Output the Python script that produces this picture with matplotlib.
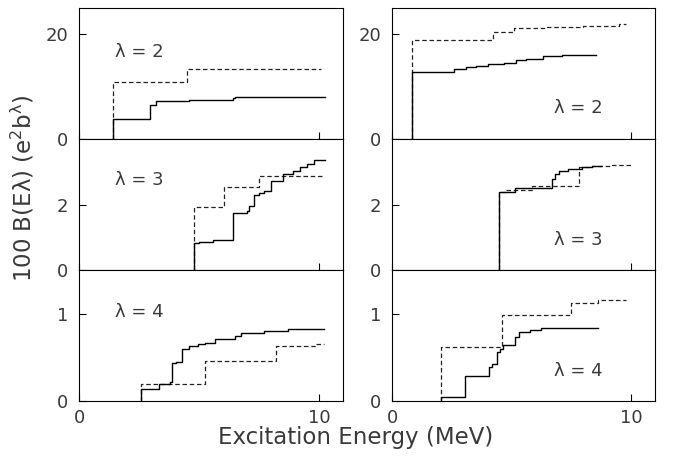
import numpy as np
import matplotlib.pyplot as plt

# cumulative B(E lambda) strength, step positions (MeV) and running sums
# top row: lambda = 2
l2_left_solid_e = [1.4, 2.96, 3.2, 4.6, 6.4, 6.5]
l2_left_solid_b = [3.8, 6.5, 7.25, 7.5, 7.75, 8.1]
l2_left_solid_end = 10.25
l2_left_dash_e = [1.4, 4.5]
l2_left_dash_b = [10.8, 13.3]
l2_left_dash_end = 10.1

l2_right_solid_e = [0.82, 2.6, 3.1, 3.5, 4.0, 4.7, 5.2, 5.6, 6.3, 7.1]
l2_right_solid_b = [12.8, 13.3, 13.7, 14.0, 14.3, 14.5, 15.0, 15.3, 15.8, 16.1]
l2_right_solid_end = 8.55
l2_right_dash_e = [0.82, 4.23, 5.1, 6.5, 8.0, 9.5]
l2_right_dash_b = [18.85, 20.4, 21.2, 21.4, 21.6, 22.0]
l2_right_dash_end = 9.8

# middle row: lambda = 3
l3_left_solid_e = [4.8, 5.0, 5.6, 6.4, 7.0, 7.1, 7.3, 7.5, 7.7, 8.0, 8.5, 8.9, 9.2, 9.5, 9.8]
l3_left_solid_b = [0.83, 0.87, 0.92, 1.74, 1.8, 1.95, 2.29, 2.36, 2.42, 2.71, 2.93, 3.03, 3.15, 3.25, 3.36]
l3_left_solid_end = 10.25
l3_left_dash_e = [4.8, 6.04, 7.5]
l3_left_dash_b = [1.92, 2.52, 2.86]
l3_left_dash_end = 10.2

l3_right_solid_e = [4.48, 5.15, 6.7, 6.8, 6.97, 7.38, 7.93, 8.35]
l3_right_solid_b = [2.39, 2.49, 2.79, 2.94, 3.03, 3.08, 3.15, 3.18]
l3_right_solid_end = 8.76
l3_right_dash_e = [4.48, 4.75, 5.85, 7.83, 8.35, 9.2]
l3_right_dash_b = [2.39, 2.44, 2.56, 3.13, 3.18, 3.22]
l3_right_dash_end = 9.98

# bottom row: lambda = 4
l4_left_solid_e = [2.57, 3.35, 3.79, 3.86, 4.04, 4.28, 4.6, 4.97, 5.25, 5.67, 6.5, 6.74, 7.7, 8.7]
l4_left_solid_b = [0.136, 0.19, 0.22, 0.43, 0.45, 0.6, 0.63, 0.65, 0.66, 0.71, 0.74, 0.78, 0.80, 0.83]
l4_left_solid_end = 10.2
l4_left_dash_e = [2.57, 5.25, 8.2, 9.87]
l4_left_dash_b = [0.2, 0.455, 0.63, 0.65]
l4_left_dash_end = 10.2

l4_right_solid_e = [2.03, 3.07, 4.07, 4.18, 4.41, 4.5, 4.64, 5.13, 5.3, 5.78, 6.22]
l4_right_solid_b = [0.05, 0.29, 0.39, 0.42, 0.56, 0.6, 0.64, 0.73, 0.79, 0.81, 0.84]
l4_right_solid_end = 8.6
l4_right_dash_e = [2.03, 4.59, 7.48, 8.6]
l4_right_dash_b = [0.62, 0.98, 1.12, 1.16]
l4_right_dash_end = 9.77

lam_labels = ['λ = 2', 'λ = 3', 'λ = 4']
y_limits = [25, 4, 1.5]
y_ticks = [[0, 20], [0, 2], [0, 1]]

panels = [
    [(l2_left_solid_e, l2_left_solid_b, l2_left_solid_end, l2_left_dash_e, l2_left_dash_b, l2_left_dash_end),
     (l2_right_solid_e, l2_right_solid_b, l2_right_solid_end, l2_right_dash_e, l2_right_dash_b, l2_right_dash_end)],
    [(l3_left_solid_e, l3_left_solid_b, l3_left_solid_end, l3_left_dash_e, l3_left_dash_b, l3_left_dash_end),
     (l3_right_solid_e, l3_right_solid_b, l3_right_solid_end, l3_right_dash_e, l3_right_dash_b, l3_right_dash_end)],
    [(l4_left_solid_e, l4_left_solid_b, l4_left_solid_end, l4_left_dash_e, l4_left_dash_b, l4_left_dash_end),
     (l4_right_solid_e, l4_right_solid_b, l4_right_solid_end, l4_right_dash_e, l4_right_dash_b, l4_right_dash_end)],
]

label_pos = [[(0.227, 0.667), (0.707, 0.233)],
             [(0.227, 0.69), (0.707, 0.226)],
             [(0.227, 0.68), (0.707, 0.229)]]


def cum_step(e, b, e_end):
    x = [e[0]] + list(e) + [e_end]
    y = [0] + list(b) + [b[-1]]
    return np.array(x), np.array(y)


txt_col = '#3a3a3a'
plt.rcParams['font.family'] = 'DejaVu Sans'
plt.rcParams['mathtext.default'] = 'regular'

fig = plt.figure(figsize=(6.73, 4.62), dpi=100)
gs_left = fig.add_gridspec(3, 1, left=0.1174, right=0.5097, top=0.9827, bottom=0.132, hspace=0)
gs_right = fig.add_gridspec(3, 1, left=0.5825, right=0.9733, top=0.9827, bottom=0.132, hspace=0)

for row in range(3):
    for col, gs in enumerate([gs_left, gs_right]):
        ax = fig.add_subplot(gs[row, 0])
        se, sb, send, de, db, dend = panels[row][col]

        x, y = cum_step(de, db, dend)
        ax.step(x, y, where='post', color='#222222', lw=0.9, dashes=(3.6, 2.2))
        x, y = cum_step(se, sb, send)
        ax.step(x, y, where='post', color='black', lw=1.0)

        ax.set_xlim(0, 11)
        ax.set_ylim(0, y_limits[row])
        ax.set_yticks(y_ticks[row])
        ax.set_xticks([0, 10])
        ax.tick_params(axis='both', direction='in', length=5, width=0.8,
                       labelsize=13, labelcolor=txt_col, colors='black')
        ax.tick_params(axis='y', pad=8)
        ax.tick_params(axis='x', pad=6)
        if row < 2:
            ax.tick_params(axis='x', labelbottom=False)
        for sp in ax.spines.values():
            sp.set_linewidth(0.8)

        tx, ty = label_pos[row][col]
        ax.text(tx, ty, lam_labels[row], transform=ax.transAxes, ha='center', va='center',
                fontsize=13, color=txt_col)

fig.text(0.528, 0.054, 'Excitation Energy (MeV)', ha='center', va='center', fontsize=16.5, color=txt_col)
fig.text(0.033, 0.593, r'100 B(Eλ) (e$^2$b$^λ$)', ha='center', va='center',
         rotation=90, fontsize=16.5, color=txt_col)

plt.savefig('out.png', dpi=100)
